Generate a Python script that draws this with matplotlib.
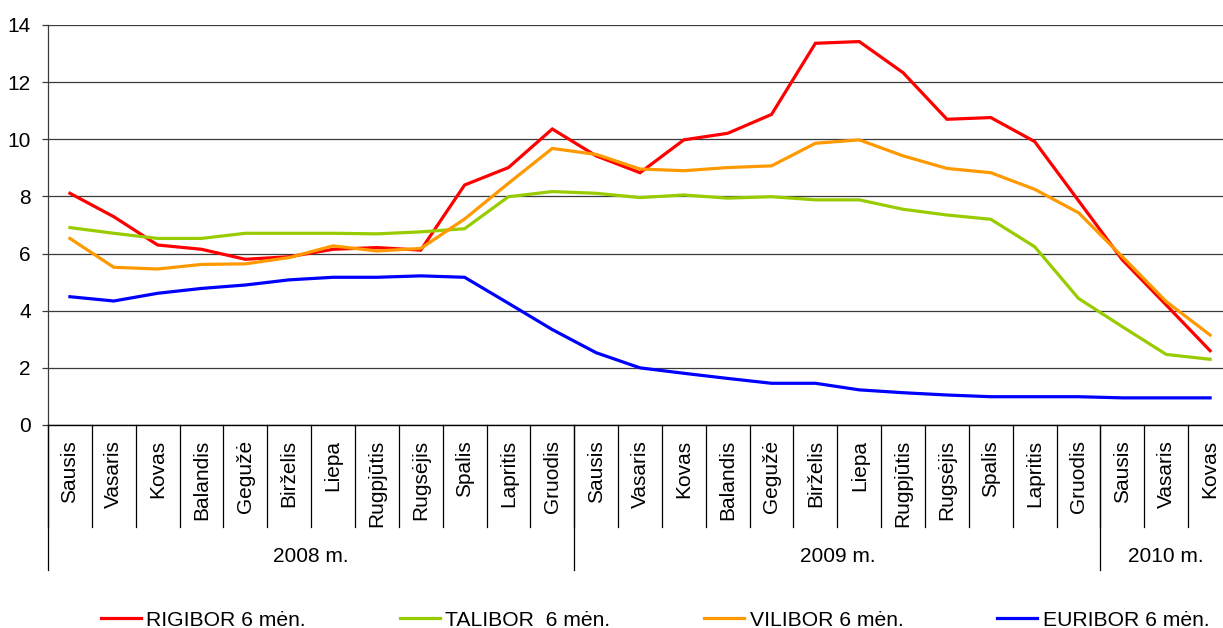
import matplotlib
matplotlib.use("Agg")
import matplotlib.pyplot as plt
import matplotlib.transforms as mtransforms

plt.rcParams['font.family'] = ['Liberation Sans', 'DejaVu Sans']

months = ["Sausis", "Vasaris", "Kovas", "Balandis", "Gegužė", "Birželis",
          "Liepa", "Rugpjūtis", "Rugsėjis", "Spalis", "Lapritis", "Gruodis",
          "Sausis", "Vasaris", "Kovas", "Balandis", "Gegužė", "Birželis",
          "Liepa", "Rugpjūtis", "Rugsėjis", "Spalis", "Lapritis", "Gruodis",
          "Sausis", "Vasaris", "Kovas"]
years = ["2008 m.", "2009 m.", "2010 m."]
months_per_year = [12, 12, 3]

rigibor = [8.11, 7.29, 6.30, 6.15, 5.80, 5.89, 6.15, 6.21, 6.12, 8.40, 9.01, 10.36,
           9.42, 8.83, 9.98, 10.21, 10.87, 13.36, 13.42, 12.33, 10.70, 10.76, 9.92, 7.85,
           5.78, 4.20, 2.60]
talibor = [6.91, 6.71, 6.53, 6.53, 6.71, 6.71, 6.71, 6.69, 6.76, 6.87, 7.99, 8.17,
           8.11, 7.96, 8.05, 7.94, 7.99, 7.88, 7.88, 7.55, 7.35, 7.20, 6.24, 4.43,
           3.44, 2.47, 2.30]
vilibor = [6.53, 5.52, 5.46, 5.62, 5.64, 5.86, 6.27, 6.09, 6.18, 7.21, 8.46, 9.68,
           9.47, 8.96, 8.90, 9.01, 9.07, 9.86, 9.98, 9.42, 8.98, 8.83, 8.25, 7.43,
           5.89, 4.32, 3.15]
euribor = [4.49, 4.34, 4.61, 4.78, 4.90, 5.08, 5.17, 5.17, 5.22, 5.17, 4.26, 3.34,
           2.53, 2.00, 1.81, 1.63, 1.46, 1.46, 1.23, 1.13, 1.05, 0.99, 0.99, 0.99,
           0.95, 0.95, 0.95]

series = [
    ("RIGIBOR 6 mėn.", rigibor, "#FF0000"),
    ("TALIBOR  6 mėn.", talibor, "#99CC00"),
    ("VILIBOR 6 mėn.", vilibor, "#FF9900"),
    ("EURIBOR 6 mėn.", euribor, "#0000FF"),
]

W, H = 1223, 628
fig = plt.figure(figsize=(W / 100, H / 100), dpi=100)
# plot area runs past the right edge of the canvas
ax = fig.add_axes([48 / W, (H - 425) / H, (1232 - 48) / W, 400 / H])

x = list(range(len(months)))
handles = []
for label, vals, color in series:
    h, = ax.plot(x, vals, color=color, lw=2.3, label=label,
                 solid_joinstyle='miter', zorder=3)
    handles.append(h)

ax.set_xlim(-0.5, len(months) - 0.5)
ax.set_ylim(0, 14)
ax.set_yticks(range(0, 15, 2))
ax.yaxis.grid(True, color='#3a3a3a', lw=0.9)
ax.set_axisbelow(True)
ax.tick_params(axis='y', labelsize=15, length=4, width=0.9, pad=8.5,
               color='#3a3a3a')
ax.set_xticks([])
for s in ['top', 'right']:
    ax.spines[s].set_visible(False)
ax.spines['left'].set_color('#3a3a3a')
ax.spines['left'].set_linewidth(0.9)
ax.spines['bottom'].set_color('black')
ax.spines['bottom'].set_linewidth(1.0)

trans = mtransforms.blended_transform_factory(ax.transData, ax.transAxes)

# month separators and labels
for k in range(len(months) + 1):
    ax.plot([k - 0.5, k - 0.5], [0, -0.255], color='black', lw=0.9,
            transform=trans, clip_on=False)
for i, m in enumerate(months):
    ax.text(i, -0.037, m, rotation=90, ha='center', va='top', fontsize=15,
            transform=trans)

# year separators and labels
start = 0
bounds = [0]
for n in months_per_year:
    start += n
    bounds.append(start)
for b in bounds:
    ax.plot([b - 0.5, b - 0.5], [0, -0.3625], color='black', lw=0.9,
            transform=trans, clip_on=False)
for yname, a, b in zip(years, bounds[:-1], bounds[1:]):
    ax.text((a + b - 1) / 2, -0.33, yname, ha='center', va='center',
            fontsize=15, transform=trans)

fig.legend(handles=handles, loc='center', ncol=4,
           bbox_to_anchor=(655 / W, 1 - 620 / H), frameon=False,
           fontsize=15.2, handlelength=1.9, handletextpad=0.25,
           columnspacing=4.45, borderpad=0, borderaxespad=0)

fig.savefig("out.png", dpi=100, facecolor='white')
